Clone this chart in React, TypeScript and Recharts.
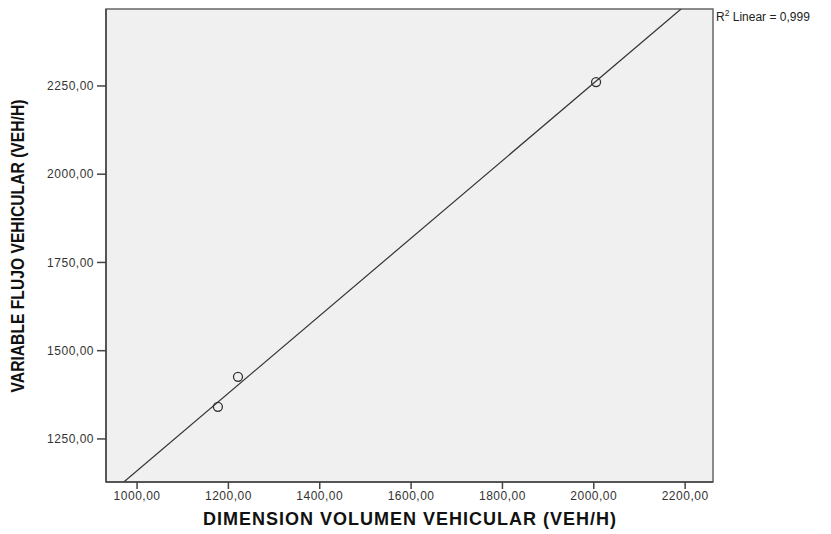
import React from 'react';
import {
  ScatterChart,
  Scatter,
  XAxis,
  YAxis,
  ReferenceArea,
  ReferenceLine,
} from 'recharts';

const xTicks = [1000, 1200, 1400, 1600, 1800, 2000, 2200];
const yTicks = [1250, 1500, 1750, 2000, 2250];

const volumen = [1177, 1221, 2005];
const flujo = [1341, 1426, 2261];

// fit line ends as read where it leaves the plot frame
const fitX = [971, 2191];
const fitY = [1128, 2468];

const xDomain = [932, 2261];
const yDomain = [1128, 2468];

const points = volumen.map((v, i) => ({ x: v, y: flujo[i] }));

const fmt = (v: number) => v.toFixed(2).replace('.', ',');

const font = '"Liberation Sans", Arial, sans-serif';
const tickStyle = { fill: '#333', fontSize: 12, fontFamily: font, letterSpacing: 0.5 };

const Ring = (props: any) => (
  <circle cx={props.cx} cy={props.cy} r={4.5} fill="none" stroke="#333" strokeWidth={1.3} />
);

export default function App() {
  return (
    <div
      style={{
        position: 'absolute',
        left: 0,
        top: 0,
        width: 831,
        height: 534,
        background: '#fff',
        fontFamily: font,
      }}
    >
      <ScatterChart
        width={831}
        height={534}
        margin={{ top: 9, right: 118, bottom: 22, left: 46 }}
      >
        <ReferenceArea
          x1={xDomain[0]}
          x2={xDomain[1]}
          y1={yDomain[0]}
          y2={yDomain[1]}
          fill="#f0f0f0"
          fillOpacity={1}
          stroke="#666"
          strokeWidth={1.5}
        />
        <XAxis
          type="number"
          dataKey="x"
          domain={xDomain}
          ticks={xTicks}
          allowDataOverflow
          height={30}
          tickFormatter={fmt}
          tickSize={7}
          axisLine={{ stroke: '#444', strokeWidth: 1.5 }}
          tickLine={{ stroke: '#444', strokeWidth: 1.5 }}
          tick={tickStyle}
        />
        <YAxis
          type="number"
          dataKey="y"
          domain={yDomain}
          ticks={yTicks}
          allowDataOverflow
          width={60}
          tickFormatter={fmt}
          tickSize={9}
          tickMargin={3}
          axisLine={{ stroke: '#444', strokeWidth: 1.5 }}
          tickLine={{ stroke: '#444', strokeWidth: 1.5 }}
          tick={tickStyle}
        />
        <ReferenceLine
          segment={[
            { x: fitX[0], y: fitY[0] },
            { x: fitX[1], y: fitY[1] },
          ]}
          stroke="#333"
          strokeWidth={1.2}
          ifOverflow="hidden"
        />
        <Scatter data={points} shape={Ring} isAnimationActive={false} />
      </ScatterChart>

      <div
        style={{
          position: 'absolute',
          left: 716,
          top: 8,
          fontSize: 12,
          color: '#222',
          whiteSpace: 'nowrap',
        }}
      >
        R<sup style={{ fontSize: 8.5 }}>2</sup> Linear = 0,999
      </div>

      <div
        style={{
          position: 'absolute',
          left: 410,
          top: 509,
          transform: 'translateX(-50%)',
          fontSize: 18,
          letterSpacing: 1,
          fontWeight: 'bold',
          color: '#111',
          whiteSpace: 'nowrap',
        }}
      >
        DIMENSION VOLUMEN VEHICULAR (VEH/H)
      </div>

      <div
        style={{
          position: 'absolute',
          left: 18,
          top: 246,
          transform: 'translate(-50%, -50%) rotate(-90deg) scaleX(0.87)',
          fontSize: 18,
          fontWeight: 'bold',
          color: '#111',
          whiteSpace: 'nowrap',
        }}
      >
        VARIABLE FLUJO VEHICULAR (VEH/H)
      </div>
    </div>
  );
}
